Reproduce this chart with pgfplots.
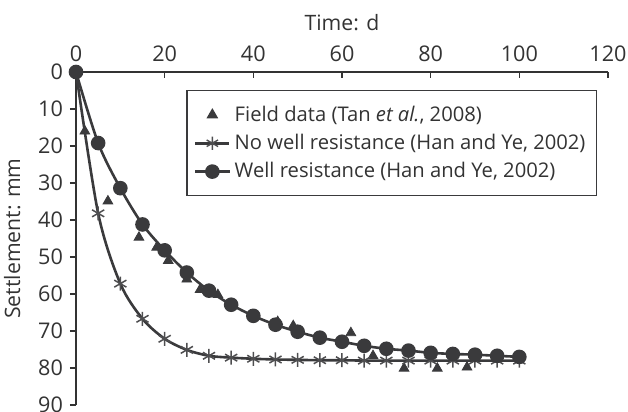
\documentclass[border=0pt]{standalone}
\usepackage{fontspec}
\setmainfont{Open Sans}
\usepackage{pgfplots}
\pgfplotsset{compat=1.18}
\definecolor{dk}{HTML}{3A3A3C}
\definecolor{txt}{HTML}{333333}
\begin{document}
\begin{tikzpicture}
\useasboundingbox (-38pt,-3.5pt) rectangle (276pt,202.5pt);
\begin{axis}[
  scale only axis, width=266pt, height=166.5pt,
  xmin=0, xmax=120, ymin=0, ymax=90, y dir=reverse,
  axis x line=top, axis y line=left,
  axis line style={-, draw=txt, line width=0.7pt},
  xtick={0,20,...,120}, ytick={0,10,...,90},
  xtick align=inside, ytick align=outside,
  major tick length=3pt,
  tick style={draw=txt, line width=0.7pt},
  tick label style={font=\fontsize{10.8}{12}\selectfont, text=txt},
  xticklabel style={yshift=1.5pt},
  label style={font=\fontsize{10.6}{12}\selectfont, text=txt},
  xlabel style={yshift=1pt},
  ylabel style={yshift=2pt},
  /pgf/number format/assume math mode=true,
  xlabel={Time: d}, ylabel={Settlement: mm},
  legend style={at={(axis cs:24.9,4.9)}, anchor=north west, draw=dk, line width=0.6pt,
    font=\fontsize{10.1}{12}\selectfont, text=txt, row sep=1pt, inner xsep=3.5pt, inner ysep=5.5pt},
  legend cell align=left,
]
\addplot[only marks, mark=triangle*, mark size=2.8pt, color=dk] coordinates {
(0,0)(2,16)(7.2,34.9)(14.2,44.7)(18.2,47.4)(20.8,51)(25,56)(28,58.8)(32,60.2)(40,65.9)(45.5,67.5)(49,68.6)(62,70.5)(67,76.7)(74,80.1)(81.5,80.1)(88.2,79.8)
};
\addlegendentry{Field data (Tan \textit{et al.}, 2008)}
\addplot[smooth, tension=0.5, draw=dk, line width=1.3pt, mark=none,
  legend image code/.code={
    \draw[dk, line width=1.3pt] (0cm,0cm) -- (0.6cm,0cm);
    \draw[dk!90, line width=0.7pt] plot[mark=asterisk, mark size=3.3pt] coordinates {(0.3cm,0cm)};
  }] coordinates {
(0,0)(5,38.2)(10,57.2)(15,66.7)(20,72.1)(25,75.1)(30,76.7)(35,77.2)(40,77.5)(45,77.7)(50,77.8)(55,77.9)(60,77.9)(65,78)(70,78)(75,78)(80,78)(85,78)(90,78)(95,78)(100,78)
};
\addlegendentry{No well resistance (Han and Ye, 2002)}
\addplot[only marks, forget plot, mark=asterisk, mark size=3.5pt, draw=dk!90, line width=0.75pt] coordinates {
(0,0)(5,38.2)(10,57.2)(15,66.7)(20,72.1)(25,75.1)(30,76.7)(35,77.2)(40,77.5)(45,77.7)(50,77.8)(55,77.9)(60,77.9)(65,78)(70,78)(75,78)(80,78)(85,78)(90,78)(95,78)(100,78)
};
\addplot[smooth, tension=0.5, color=dk, line width=1.3pt, mark=*, mark size=3pt,
  mark options={fill=dk}] coordinates {
(0,0)(5,19.2)(10,31.4)(15,41.2)(20,48.2)(25,54.2)(30,59.1)(35,62.9)(40,65.9)(45,68.3)(50,70.2)(55,71.8)(60,72.9)(65,74)(70,74.8)(75,75.3)(80,75.9)(85,76.2)(90,76.4)(95,76.7)(100,77.0)
};
\addlegendentry{Well resistance (Han and Ye, 2002)}
\end{axis}
\end{tikzpicture}
\end{document}
